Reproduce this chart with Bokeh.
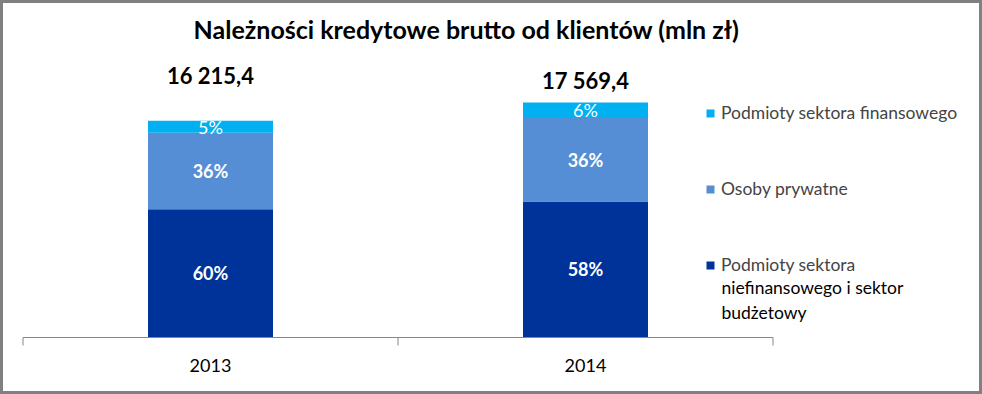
import numpy as np
from bokeh.plotting import figure
from bokeh.models import Range1d, Label, Legend, LegendItem, ColumnDataSource
from bokeh.embed import file_html
from bokeh.resources import INLINE
from bokeh.core.properties import value

# ---------------- data ----------------
categories = ["2013", "2014"]
nonfinancial = [9601, 10180]      # Podmioty sektora niefinansowego i sektor budżetowy
private = [5717, 6236]            # Osoby prywatne
financial = [897, 1153]           # Podmioty sektora finansowego
totals = [16215.4, 17569.4]
total_labels = ["16 215,4", "17 569,4"]
pct_nonfinancial = ["60%", "58%"]
pct_private = ["36%", "36%"]
pct_financial = ["5%", "6%"]
series_names = [
    ["Podmioty sektora", "niefinansowego i sektor", "budżetowy"],
    ["Osoby prywatne"],
    ["Podmioty sektora finansowego"],
]
title_text = "Należności kredytowe brutto od klientów (mln zł)"

# ---------------- styles ----------------
colors = ["#003399", "#558ED5", "#00B0F0"]
FONT_NAME = "Lato"
FONT = value(FONT_NAME)
total_label_raise = [-45, -22]   # pixel offsets of the total labels above bar tops

W, H = 982, 394
x = np.arange(len(categories)) + 0.5

src = ColumnDataSource(dict(
    x=x, cat=categories,
    nonfin=nonfinancial, priv=private, fin=financial,
    total=totals, total_label=total_labels, total_off=total_label_raise,
    y_nonfin=np.array(nonfinancial) / 2,
    y_priv=np.array(nonfinancial) + np.array(private) / 2,
    y_fin=np.array(nonfinancial) + np.array(private) + np.array(financial) / 2,
    p_nonfin=pct_nonfinancial, p_priv=pct_private, p_fin=pct_financial,
    zero=np.zeros(len(categories)),
))

units_per_px = 74.79
p = figure(width=W, height=H, output_backend="svg", toolbar_location=None,
           x_range=Range1d(-22.5 / 375, (W - 22.5) / 375),
           y_range=Range1d(-(H - 337) * units_per_px, 337 * units_per_px),
           x_axis_location=None, y_axis_location=None,
           min_border=0, min_border_left=0, min_border_right=0,
           min_border_top=0, min_border_bottom=0)
p.grid.visible = False
p.background_fill_color = "white"
p.border_fill_color = "white"
p.outline_line_color = "#808080"
p.outline_line_width = 5

renderers = p.vbar_stack(["nonfin", "priv", "fin"], x="x", width=1 / 3,
                         color=colors, line_color=None, source=src)

# axis line and boundary ticks
p.segment(x0=0, x1=len(categories), y0=0, y1=0, line_color="#868686", line_width=1)
p.ray(x=np.arange(len(categories) + 1), y=0, length=8, length_units="screen",
      angle=-np.pi / 2, line_color="#868686", line_width=1)

# category labels
p.text(x="x", y="zero", text="cat", source=src, y_offset=28,
       text_font=FONT, text_font_size="18px", text_color="black",
       text_align="center", text_baseline="middle")

# segment labels
p.text(x="x", y="y_nonfin", text="p_nonfin", source=src, text_font=FONT,
       text_font_size="18px", text_font_style="bold", text_color="white",
       text_align="center", text_baseline="middle")
p.text(x="x", y="y_priv", text="p_priv", source=src, text_font=FONT,
       text_font_size="18px", text_font_style="bold", text_color="white",
       text_align="center", text_baseline="middle")
p.text(x="x", y="y_fin", text="p_fin", source=src, text_font=FONT,
       text_font_size="18px", text_color="white",
       text_align="center", text_baseline="middle")

# totals
p.text(x="x", y="total", text="total_label", source=src, y_offset="total_off",
       text_font=FONT, text_font_size="22px", text_font_style="bold",
       text_color="black", text_align="center", text_baseline="middle")

# title
p.add_layout(Label(x=466, y=H - 28, x_units="screen", y_units="screen",
                   text=title_text, text_font=FONT_NAME, text_font_size="25px",
                   text_font_style="bold", text_color="black",
                   text_align="center", text_baseline="middle"))

legend = Legend(items=[LegendItem(label=series_names[2][0], renderers=[renderers[2]]),
                       LegendItem(label=series_names[1][0], renderers=[renderers[1]]),
                       LegendItem(label=series_names[0][0], renderers=[renderers[0]])],
                location=(705, 119), orientation="vertical",
                glyph_width=10, glyph_height=10, label_standoff=6,
                label_text_font=FONT_NAME, label_text_font_size="17.5px",
                label_text_line_height=1.2, label_height=10,
                spacing=55, padding=0, margin=0,
                border_line_color=None, background_fill_alpha=0)
p.add_layout(legend)

# continuation lines of the third legend entry
p.add_layout(Label(x=721, y=H - 276, x_units="screen", y_units="screen",
                   text="\n".join(series_names[0][1:]), text_font=FONT_NAME,
                   text_font_size="17.5px", text_line_height=1.2,
                   text_color="black", text_align="left", text_baseline="top"))

open("out.html", "w").write(file_html(p, INLINE))
